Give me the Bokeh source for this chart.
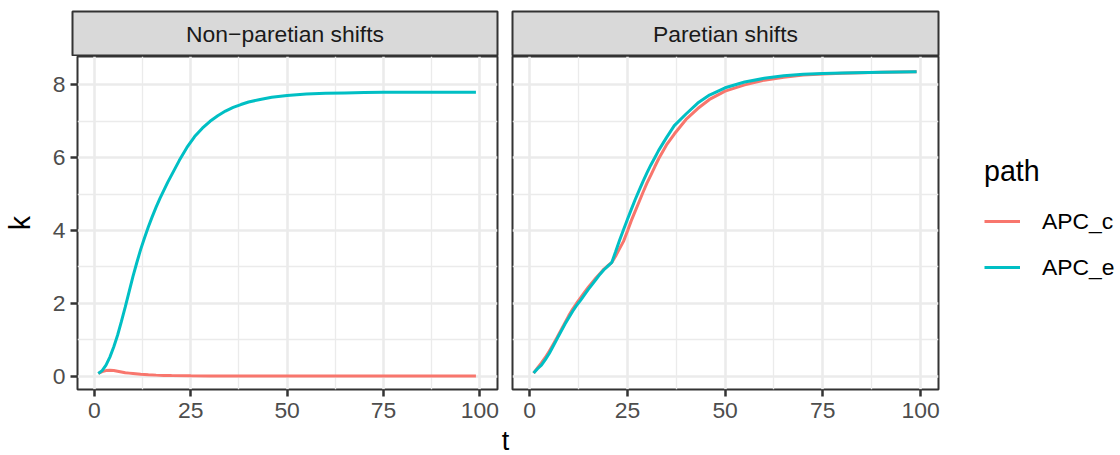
from bokeh.plotting import figure
from bokeh.models import Range1d, FixedTicker, Legend, LegendItem
from bokeh.layouts import row, column
from bokeh.embed import file_html
from bokeh.resources import INLINE
from bokeh.core.properties import value

FONT = "Liberation Sans"

# ---------------- data ----------------
facets = ["Non\u2212paretian shifts", "Paretian shifts"]
paths = ["APC_c", "APC_e"]
path_colors = ["#F8766D", "#00BFC4"]

# Non-paretian shifts
t_np_e = [1, 2, 3, 4, 5, 6, 7, 8, 9, 10, 11, 12, 13, 14, 15, 16, 17, 18, 19, 20,
          22, 24, 26, 28, 30, 32, 34, 36, 38, 40, 43, 46, 50, 55, 60, 65, 70, 75, 80, 90, 99]
k_np_e = [0.07, 0.15, 0.3, 0.52, 0.8, 1.12, 1.5, 1.9, 2.32, 2.74, 3.12, 3.48, 3.8, 4.1, 4.38,
          4.64, 4.88, 5.1, 5.32, 5.52, 5.92, 6.28, 6.58, 6.81, 7.0, 7.15, 7.28, 7.38, 7.46, 7.53,
          7.6, 7.66, 7.71, 7.75, 7.77, 7.78, 7.79, 7.8, 7.8, 7.8, 7.8]
t_np_c = [1, 2, 3, 4, 5, 6, 7, 8, 9, 10, 12, 14, 16, 18, 20, 25, 30, 40, 50, 60, 70, 80, 90, 99]
k_np_c = [0.07, 0.12, 0.15, 0.16, 0.15, 0.13, 0.11, 0.09, 0.08, 0.07, 0.05, 0.035, 0.025,
          0.018, 0.012, 0.006, 0.003, 0.001, 0.0, 0.0, 0.0, 0.0, 0.0, 0.0]

# Paretian shifts
t_p = [1, 2, 3, 4, 5, 6, 7, 8, 9, 10, 11, 12, 13, 14, 15, 16, 17, 18, 19, 20, 21, 22, 23,
       24, 25, 26, 27, 28, 29, 30, 31, 32, 33, 35, 37, 40, 43, 46, 50, 55, 60, 65, 70, 75,
       80, 90, 99]
k_p_e = [0.08, 0.2, 0.3, 0.45, 0.62, 0.82, 1.02, 1.22, 1.42, 1.6, 1.78, 1.94, 2.08, 2.23,
         2.38, 2.52, 2.66, 2.8, 2.92, 3.02, 3.12, 3.42, 3.73, 4.02, 4.3, 4.58, 4.85, 5.1,
         5.35, 5.58, 5.8, 6.0, 6.2, 6.55, 6.88, 7.2, 7.5, 7.72, 7.92, 8.08, 8.18, 8.25, 8.29,
         8.31, 8.33, 8.35, 8.36]
k_p_c = [0.08, 0.22, 0.36, 0.51, 0.68, 0.87, 1.06, 1.26, 1.46, 1.66, 1.84, 2.0, 2.15, 2.3,
         2.44, 2.57, 2.7, 2.82, 2.94, 3.03, 3.12, 3.3, 3.5, 3.7, 3.98, 4.27, 4.53, 4.79, 5.05,
         5.3, 5.52, 5.75, 5.97, 6.35, 6.65, 7.05, 7.35, 7.6, 7.83, 8.0, 8.13, 8.21, 8.27, 8.3,
         8.32, 8.35, 8.36]

x_ticks = [0, 25, 50, 75, 100]
x_minor = [12.5, 37.5, 62.5, 87.5]
y_ticks = [0, 2, 4, 6, 8]
y_minor = [1, 3, 5, 7]

# ---------------- geometry / style ----------------
FW_L, FW_R = 425, 426     # panel frame widths
FH = 333                  # panel frame height
LEFT = 72
GAP_L, GAP_R = 7, 8
RIGHT_PAD = 7
LEG_W = 175
STRIP_H = 45
TOP = 11
BOTTOM = 36
T_H = 455 - (TOP + STRIP_H) - (FH + BOTTOM)

SMALL = "22.9px"
BIG = "28.6px"

xr = (-4.4, 104.6)
yr = (-0.37, 8.78)


def base_fig(width, height, **kw):
    p = figure(width=width, height=height, toolbar_location=None, output_backend="svg",
               min_border=0, **kw)
    p.border_fill_color = "white"
    return p


def style_panel(p, show_y):
    p.background_fill_color = "white"
    p.outline_line_color = "#333333"
    p.outline_line_width = 2
    p.xgrid.ticker = FixedTicker(ticks=x_ticks, minor_ticks=x_minor)
    p.ygrid.ticker = FixedTicker(ticks=y_ticks, minor_ticks=y_minor)
    for g in (p.xgrid, p.ygrid):
        g.grid_line_color = "#EBEBEB"
        g.grid_line_width = 2.6
        g.minor_grid_line_color = "#EBEBEB"
        g.minor_grid_line_width = 1.3
    axes = [p.xaxis[0]] + ([p.yaxis[0]] if show_y else [])
    for ax in axes:
        ax.axis_line_color = None
        ax.major_tick_line_color = "#333333"
        ax.major_tick_line_width = 2.5
        ax.major_tick_out = 7
        ax.major_tick_in = 0
        ax.minor_tick_line_color = None
        ax.major_label_text_font = FONT
        ax.major_label_text_font_size = SMALL
        ax.major_label_text_color = "#4D4D4D"
        ax.axis_label_text_font = FONT
        ax.axis_label_text_font_size = BIG
        ax.axis_label_text_font_style = "normal"
        ax.axis_label_text_color = "black"
    p.xaxis.ticker = FixedTicker(ticks=x_ticks, minor_ticks=x_minor)
    p.xaxis.major_label_standoff = 6
    if show_y:
        p.yaxis.ticker = FixedTicker(ticks=y_ticks, minor_ticks=y_minor)
        p.yaxis.major_label_standoff = 5
        p.yaxis.axis_label = "k"
        p.yaxis.axis_label_standoff = 14


def strip(label, left, fw, right):
    s = base_fig(left + fw + right, STRIP_H + TOP, x_range=Range1d(0, 1), y_range=Range1d(0, 1),
                 x_axis_location=None, y_axis_location=None,
                 min_border_left=left, min_border_right=right, min_border_top=TOP)
    s.grid.visible = False
    s.background_fill_color = "#D9D9D9"
    s.outline_line_color = "#333333"
    s.outline_line_width = 2
    s.text(x=[0.5], y=[0.5], text=[label], text_align="center", text_baseline="middle",
           text_font=value(FONT), text_font_size=SMALL, text_color="#1A1A1A")
    return s


stripL = strip(facets[0], LEFT, FW_L, GAP_L)
stripR = strip(facets[1], GAP_R, FW_R, RIGHT_PAD)

PH = FH + BOTTOM
pL = base_fig(LEFT + FW_L + GAP_L, PH, x_range=Range1d(*xr), y_range=Range1d(*yr),
              min_border_left=LEFT, min_border_right=GAP_L, min_border_bottom=BOTTOM)
style_panel(pL, True)
pL.line(t_np_c, k_np_c, line_color=path_colors[0], line_width=3)
pL.line(t_np_e, k_np_e, line_color=path_colors[1], line_width=3)

pR = base_fig(GAP_R + FW_R + RIGHT_PAD, PH, x_range=Range1d(*xr), y_range=Range1d(*yr),
              y_axis_location=None,
              min_border_left=GAP_R, min_border_right=RIGHT_PAD, min_border_bottom=BOTTOM)
style_panel(pR, False)
pR.line(t_p, k_p_c, line_color=path_colors[0], line_width=3)
pR.line(t_p, k_p_e, line_color=path_colors[1], line_width=3)

# legend panel: same series, drawn outside the visible range so only the key shows
pLeg = base_fig(LEG_W, PH, x_range=Range1d(*xr), y_range=Range1d(-30, -29),
                x_axis_location=None, y_axis_location=None)
pLeg.grid.visible = False
pLeg.outline_line_color = None
pLeg.background_fill_color = "white"
lc = pLeg.line(t_p, k_p_c, line_color=path_colors[0], line_width=3)
le = pLeg.line(t_p, k_p_e, line_color=path_colors[1], line_width=3)
legend = Legend(items=[LegendItem(label=paths[0], renderers=[lc]),
                       LegendItem(label=paths[1], renderers=[le])],
                title="path", location=(39, 99), orientation="vertical",
                padding=0, margin=0, spacing=0,
                glyph_width=36, glyph_height=46, label_height=46, label_standoff=22,
                title_standoff=10,
                border_line_color=None, background_fill_alpha=0)
legend.title_text_font = FONT
legend.title_text_font_size = BIG
legend.title_text_font_style = "normal"
legend.title_text_color = "black"
legend.label_text_font = FONT
legend.label_text_font_size = SMALL
legend.label_text_color = "black"
pLeg.add_layout(legend, "center")

tfig = base_fig(LEFT + FW_L + GAP_L + GAP_R + FW_R, T_H,
                x_range=Range1d(0, 1), y_range=Range1d(0, 1),
                x_axis_location=None, y_axis_location=None,
                min_border_left=LEFT, min_border_right=0)
tfig.grid.visible = False
tfig.outline_line_color = None
tfig.background_fill_color = "white"
tfig.text(x=[0.5], y=[0.0], text=["t"], text_align="center", text_baseline="bottom",
          text_font=value(FONT), text_font_size="27px", text_color="black")

layout = column(row(stripL, stripR), row(pL, pR, pLeg), tfig)

open("out.html", "w").write(file_html(layout, INLINE))
